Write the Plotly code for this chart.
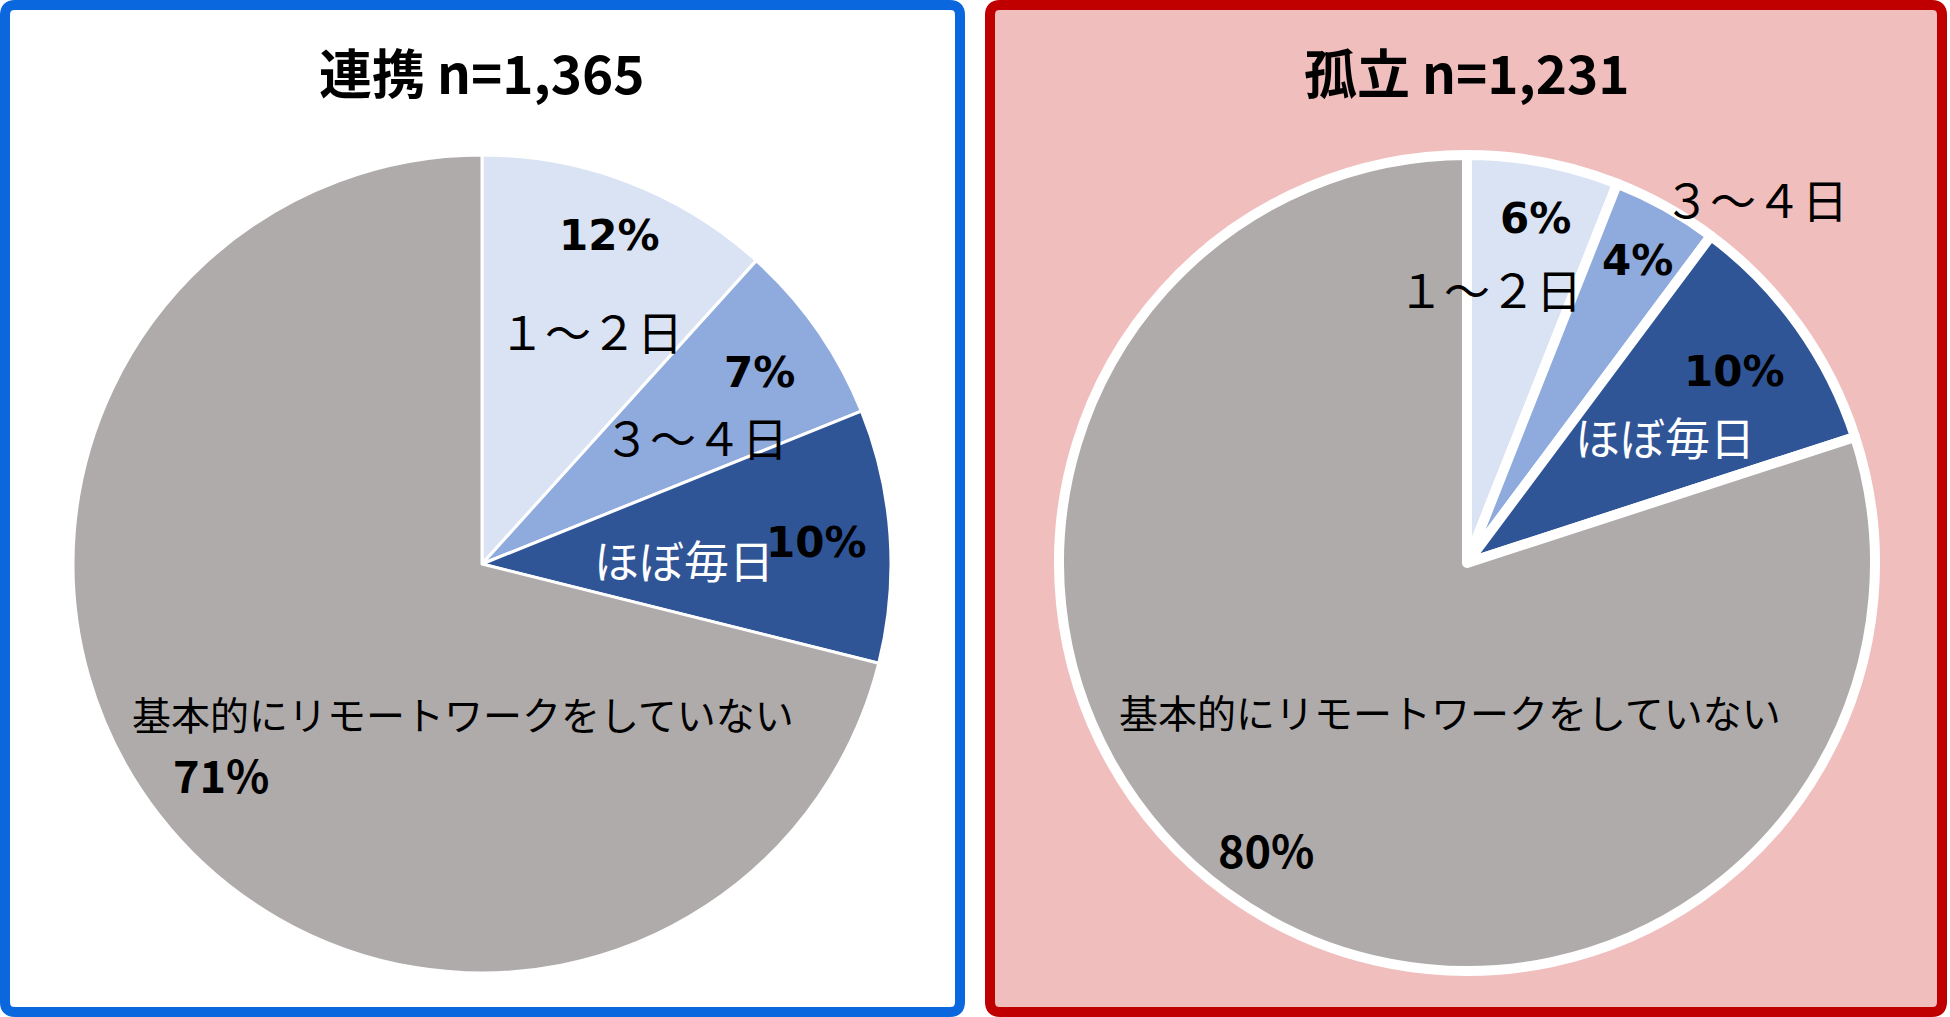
import plotly.graph_objects as go

W, H = 1950, 1017

# ---- data ----
categories = ["１～２日", "３～４日", "ほぼ毎日", "基本的にリモートワークをしていない"]
left_title = "連携 n=1,365"
right_title = "孤立 n=1,231"
left_values = [11.7, 7.2, 10.0, 71.1]
right_values = [6.0, 4.2, 9.8, 80.0]
slice_colors = ["#DAE3F3", "#8FAADC", "#2F5597", "#AFABAB"]

fig = go.Figure()

def px_to_paper(x, y):
    return x / W, 1 - y / H

def domain(cx, cy, r):
    x0, y1 = px_to_paper(cx - r, cy - r)
    x1, y0 = px_to_paper(cx + r, cy + r)
    return dict(x=[x0, x1], y=[y0, y1])

fig.add_trace(go.Pie(
    labels=categories, values=left_values, sort=False, direction="clockwise",
    rotation=0, textinfo="none", hoverinfo="skip", showlegend=False,
    marker=dict(colors=slice_colors, line=dict(color="white", width=3)),
    domain=domain(482, 564, 409),
))
fig.add_trace(go.Pie(
    labels=categories, values=right_values, sort=False, direction="clockwise",
    rotation=0, textinfo="none", hoverinfo="skip", showlegend=False,
    marker=dict(colors=slice_colors, line=dict(color="white", width=10)),
    domain=domain(1467, 563, 408),
))

def rounded_rect(x0, y0, x1, y1, r):
    def P(x, y):
        px, py = px_to_paper(x, y)
        return f"{px:.5f},{py:.5f}"
    return (f"M {P(x0 + r, y0)} L {P(x1 - r, y0)} Q {P(x1, y0)} {P(x1, y0 + r)} "
            f"L {P(x1, y1 - r)} Q {P(x1, y1)} {P(x1 - r, y1)} "
            f"L {P(x0 + r, y1)} Q {P(x0, y1)} {P(x0, y1 - r)} "
            f"L {P(x0, y0 + r)} Q {P(x0, y0)} {P(x0 + r, y0)} Z")

shapes = [
    dict(type="path", xref="paper", yref="paper", layer="below",
         path=rounded_rect(5, 5, 960, 1012, 10),
         fillcolor="white", line=dict(color="#0B67DD", width=10)),
    dict(type="path", xref="paper", yref="paper", layer="below",
         path=rounded_rect(990, 5, 1942, 1012, 10),
         fillcolor="#F1BEBE", line=dict(color="#C00000", width=10)),
]

CJK = "Noto Sans CJK JP"
PCT = "DejaVu Sans"

def pct(v):
    return f"<b>{v:.0f}%</b>"

def ann(text, x, y, size, family, color="black"):
    px, py = px_to_paper(x, y)
    return dict(text=text, x=px, y=py, xref="paper", yref="paper",
                xanchor="center", yanchor="middle", showarrow=False,
                font=dict(size=size, family=family, color=color))

annotations = [
    ann(f"<b>{left_title}</b>", 482, 71, 53, CJK),
    ann(f"<b>{right_title}</b>", 1467, 71, 53, CJK),
    # left labels
    ann(pct(left_values[0]), 609, 236, 42, PCT),
    ann(categories[0], 591, 330, 46, CJK),
    ann(pct(left_values[1]), 759, 372, 42, PCT),
    ann(categories[1], 696, 436, 46, CJK),
    ann(pct(left_values[2]), 816, 542, 42, PCT),
    ann(categories[2], 684, 559, 45, CJK, "white"),
    ann(categories[3], 463, 713, 39, CJK),
    ann(pct(left_values[3]), 221, 773, 45, CJK),
    # right labels
    ann(pct(right_values[0]), 1535, 218, 42, PCT),
    ann(categories[0], 1490, 288, 46, CJK),
    ann(pct(right_values[1]), 1637, 260, 42, PCT),
    ann(categories[1], 1756, 198, 46, CJK),
    ann(pct(right_values[2]), 1734, 371, 42, PCT),
    ann(categories[2], 1665, 436, 45, CJK, "white"),
    ann(categories[3], 1450, 711, 39, CJK),
    ann(pct(right_values[3]), 1266, 848, 45, CJK),
]

fig.update_layout(
    width=W, height=H, margin=dict(l=0, r=0, t=0, b=0),
    paper_bgcolor="white", plot_bgcolor="white",
    shapes=shapes, annotations=annotations, showlegend=False,
)

fig.write_html("out.html", config={"displayModeBar": False},
               post_script="document.body.style.margin='0';document.body.style.overflow='hidden';")
